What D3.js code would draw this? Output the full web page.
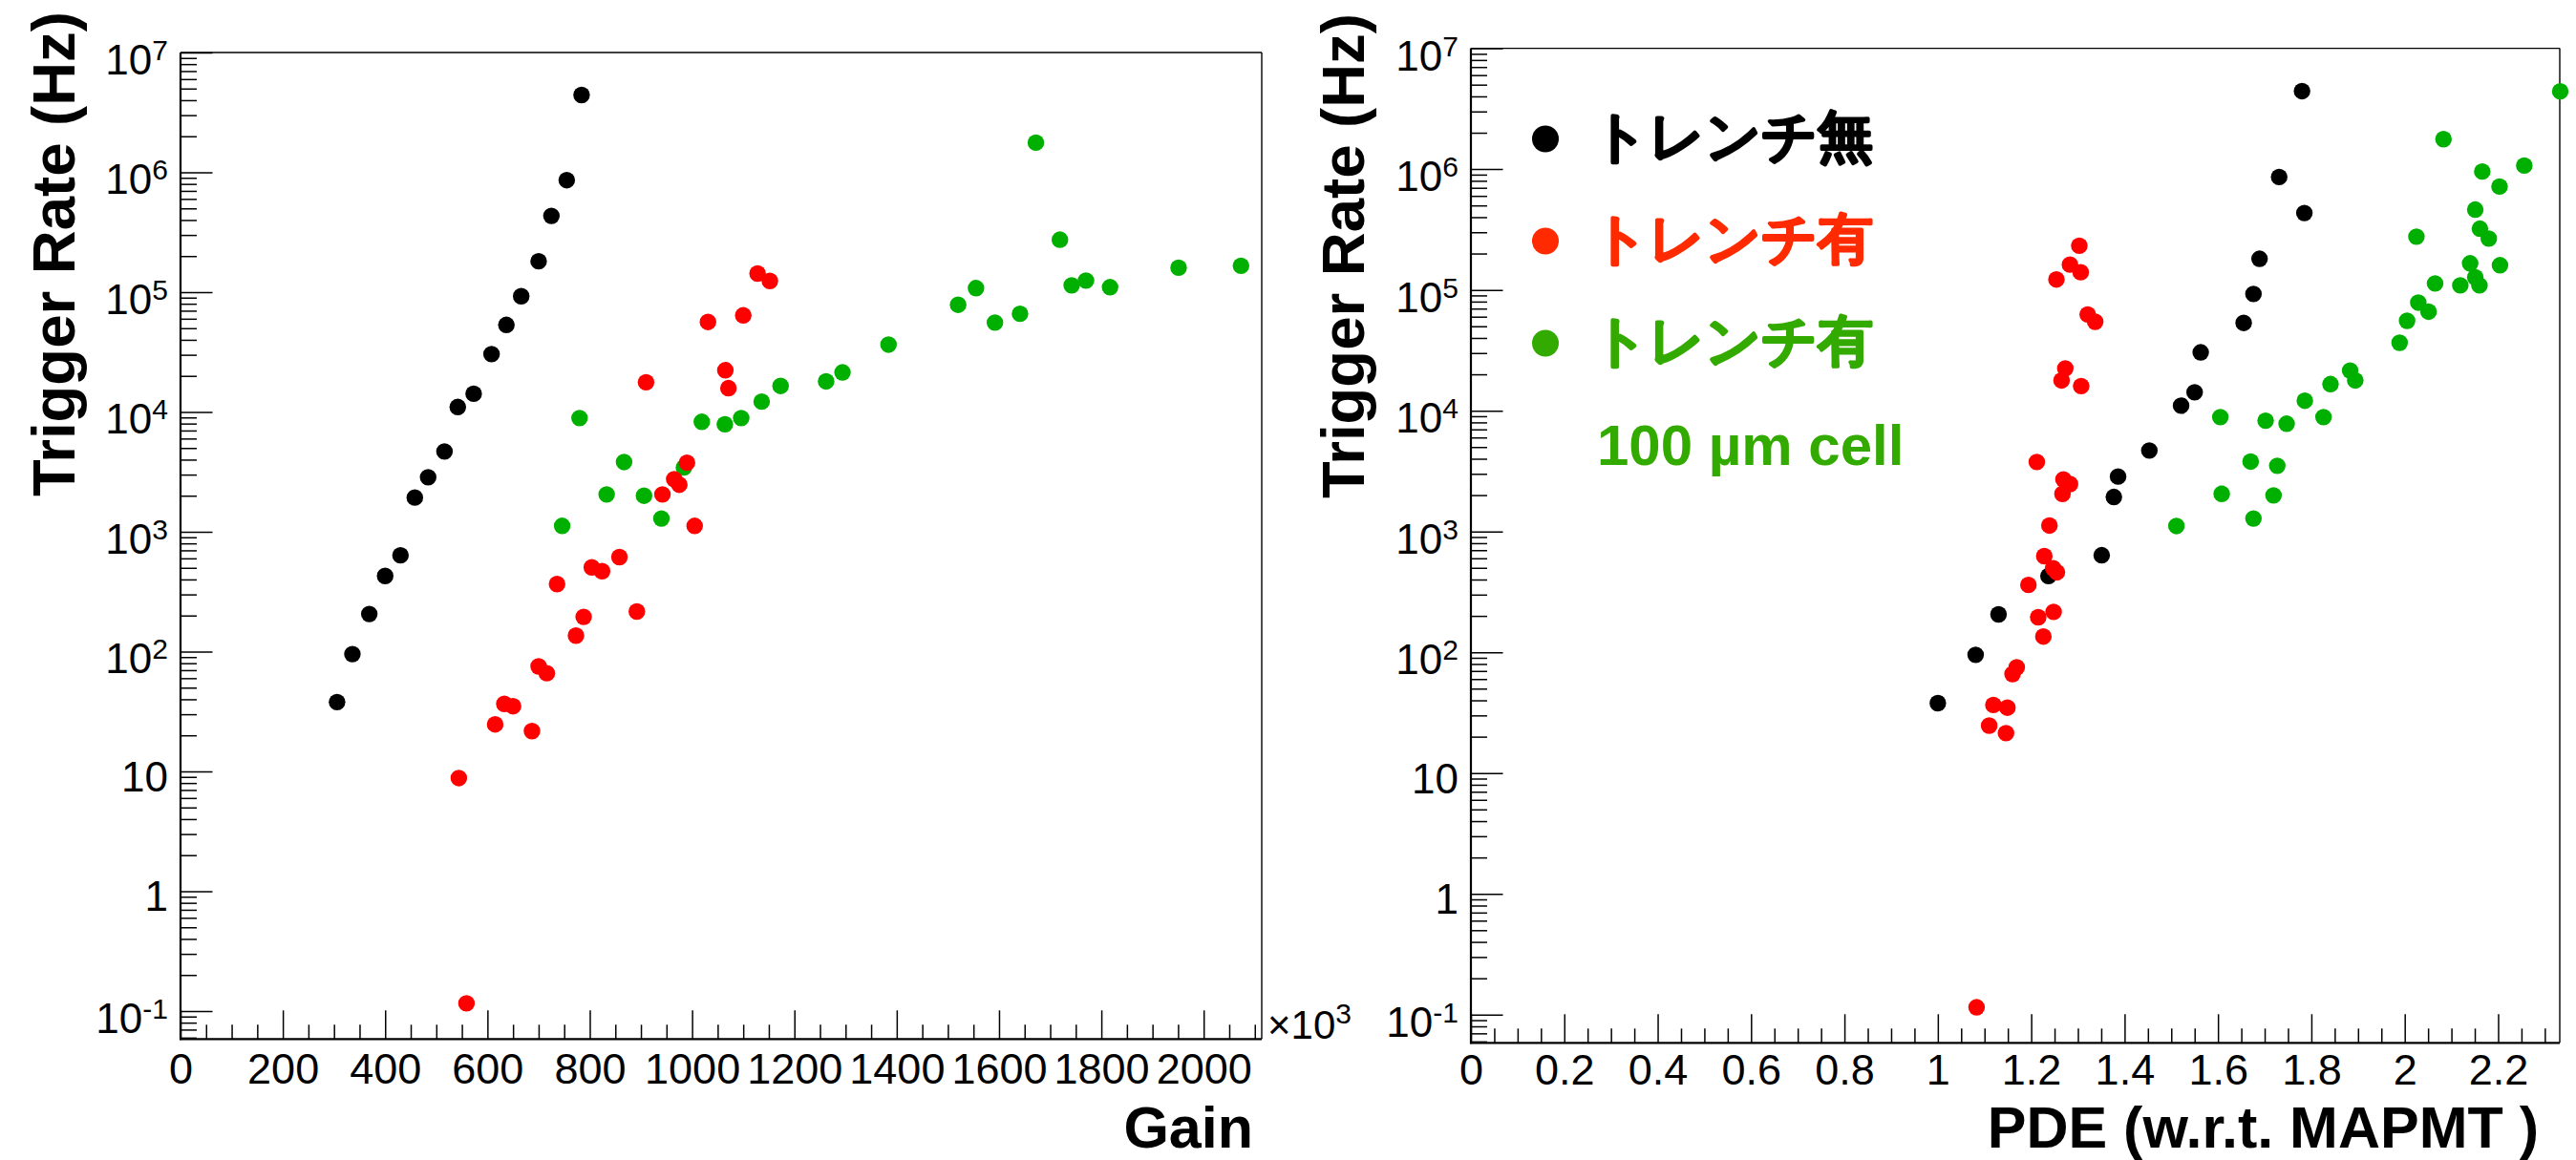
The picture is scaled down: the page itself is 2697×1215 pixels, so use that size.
<!DOCTYPE html>
<html><head><meta charset="utf-8">
<script src="https://cdn.jsdelivr.net/npm/d3@7"></script>
<style>
html,body{margin:0;padding:0;background:#fff;}
svg{display:block;}
text{font-family:"Liberation Sans",Arial,Helvetica,sans-serif;}
</style>
</head><body>
<svg id="chart" width="2697" height="1215"></svg>
<script>
// ---------------- data ----------------
// Trench-less (black): same rates in both panels
const blackGain = [784, 755, 725, 700, 666, 637, 608, 573, 542, 516, 484, 458, 430, 400, 369, 336, 306];
const blackPDE  = [1.780, 1.731, 1.785, 1.689, 1.676, 1.655, 1.563, 1.550, 1.521, 1.453, 1.386, 1.377, 1.351, 1.237, 1.130, 1.081, 1.000];
const blackRate = [4.42e6, 8.6e5, 4.33e5, 1.81e5, 9.25e4, 5.33e4, 3.04e4, 1.42e4, 1.1e4, 4.68e3, 2.85e3, 1.93e3, 636, 428, 206, 95.3, 37.9];

// Trench (red)
const redGain     = [1128, 1152, 1100, 1031, 1065, 1071, 910, 990, 965, 975, 942, 1005, 858, 804, 824, 736, 892, 788, 773, 700, 716, 633, 650, 615, 687, 544, 559];
const redGainRate = [1.43e5, 1.24e5, 6.4e4, 5.64e4, 2.23e4, 1.58e4, 1.77e4, 3.77e3, 2.75e3, 2.47e3, 2.05e3, 1.12e3, 615, 505, 469, 366, 216, 195, 136, 75.2, 66, 36.6, 35, 24.7, 21.7, 8.8, 0.116];
const redPDE      = [1.303, 1.283, 1.306, 1.254, 1.321, 1.337, 1.273, 1.265, 1.307, 1.212, 1.269, 1.283, 1.267, 1.239, 1.228, 1.247, 1.255, 1.194, 1.248, 1.215, 1.226, 1.169, 1.160, 1.119, 1.149, 1.110, 1.146, 1.083];
const redPDERate  = [2.32e5, 1.62e5, 1.40e5, 1.22e5, 6.26e4, 5.45e4, 2.24e4, 1.78e4, 1.60e4, 3.76e3, 2.70e3, 2.47e3, 2.05e3, 1.12e3, 625, 497, 459, 361, 216, 195, 135, 75, 66, 36.6, 34.8, 24.7, 21.4, 0.115];

// Trench, 100 um cell (green)
const greenGain     = [780, 867, 833, 906, 746, 940, 984, 1019, 1064, 1096, 1136, 1173, 1262, 1294, 1384, 1520, 1555, 1592, 1641, 1672, 1719, 1742, 1770, 1817, 1951, 2073];
const greenGainRate = [8.9e3, 3.82e3, 2.05e3, 2.0e3, 1.12e3, 1.29e3, 3.44e3, 8.28e3, 7.9e3, 8.9e3, 1.22e4, 1.65e4, 1.8e4, 2.14e4, 3.65e4, 7.85e4, 1.08e5, 5.57e4, 6.6e4, 1.77e6, 2.74e5, 1.14e5, 1.25e5, 1.1e5, 1.6e5, 1.66e5];
const greenPDE      = [2.333, 2.083, 2.256, 2.166, 2.203, 2.151, 2.161, 2.025, 2.180, 2.140, 2.204, 2.151, 2.065, 2.119, 2.160, 2.029, 2.051, 2.005, 1.989, 1.883, 1.894, 1.841, 1.786, 1.826, 1.605, 1.702, 1.747, 1.670, 1.727, 1.608, 1.719, 1.676, 1.511];
const greenPDERate  = [4.4e6, 1.77e6, 1.07e6, 9.55e5, 7.17e5, 4.62e5, 3.21e5, 2.76e5, 2.66e5, 1.66e5, 1.60e5, 1.27e5, 1.13e5, 1.09e5, 1.09e5, 7.85e4, 6.6e4, 5.55e4, 3.65e4, 2.15e4, 1.78e4, 1.66e4, 1.21e4, 8.85e3, 8.85e3, 8.27e3, 7.8e3, 3.79e3, 3.5e3, 2.05e3, 1.99e3, 1.28e3, 1.11e3];

// axes / labels
const yDomain = [0.0584, 1e7];
const yTickValues = [1e-1, 1, 10, 1e2, 1e3, 1e4, 1e5, 1e6, 1e7];
const yTickBase   = ["10", "1", "10", "10", "10", "10", "10", "10", "10"];
const yTickExp    = ["-1", "", "", "2", "3", "4", "5", "6", "7"];
const gainTicks = [0, 200, 400, 600, 800, 1000, 1200, 1400, 1600, 1800, 2000];
const pdeTicks  = [0, 0.2, 0.4, 0.6, 0.8, 1, 1.2, 1.4, 1.6, 1.8, 2, 2.2];
const yTitle = "Trigger Rate (Hz)";
const gainTitle = "Gain";
const pdeTitle = "PDE (w.r.t. MAPMT )";
const gainMultiplier = ["×10", "3"];
const legendLabels = ["トレンチ無", "トレンチ有", "トレンチ有"];
const legendNote = "100 µm cell";

// ---------------- drawing ----------------
const svg = d3.select("#chart");
const colBlack = "#000000", colRed = "#ff0000", colGreen = "#00b000";
const legCols = ["#000000", "#ff2a00", "#33aa00"];

const yMinor = [];
for (let d = -2; d <= 6; d++) for (let m = 2; m <= 9; m++) {
  const v = m * Math.pow(10, d);
  if (v >= yDomain[0] && v <= yDomain[1]) yMinor.push(v);
}

function panel(cfg) {
  const g = svg.append("g");
  const x = d3.scaleLinear().domain(cfg.xDomain).range([cfg.left, cfg.right]);
  const y = d3.scaleLog().domain(yDomain).range([cfg.bottom, cfg.top]);

  const styleAxis = sel => {
    sel.select(".domain").remove();
    sel.selectAll(".tick line").attr("stroke", "#000").attr("stroke-width", 1.5);
    sel.selectAll(".tick text").attr("fill", "#000").attr("font-size", 45);
  };

  // x minor
  g.append("g").attr("transform", `translate(0,${cfg.bottom})`)
    .call(d3.axisBottom(x).tickValues(cfg.xMinor).tickSizeInner(-15).tickSizeOuter(0).tickFormat(""))
    .call(styleAxis);
  // x major
  g.append("g").attr("transform", `translate(0,${cfg.bottom})`)
    .call(d3.axisBottom(x).tickValues(cfg.xMajor).tickSizeInner(-30).tickSizeOuter(0).tickPadding(cfg.xPad).tickFormat(cfg.xFmt))
    .call(styleAxis);
  // y minor
  g.append("g").attr("transform", `translate(${cfg.left},0)`)
    .call(d3.axisLeft(y).tickValues(yMinor).tickSizeInner(-17).tickSizeOuter(0).tickFormat(""))
    .call(styleAxis);
  // y major
  const ya = g.append("g").attr("transform", `translate(${cfg.left},0)`)
    .call(d3.axisLeft(y).tickValues(yTickValues).tickSizeInner(-33.5).tickSizeOuter(0).tickPadding(13).tickFormat(""))
    .call(styleAxis);
  ya.selectAll(".tick text").each(function(d, i) {
    const t = d3.select(this);
    const exp = yTickExp[i];
    t.attr("dy", null).attr("y", exp ? 22.5 : 20.5).attr("font-size", 44);
    t.append("tspan").text(yTickBase[i]);
    if (exp) t.append("tspan").attr("font-size", 30).attr("dy", -15).text(exp);
  });

  // frame
  const fr = g.append("g").attr("stroke", "#000").attr("fill", "none");
  fr.append("line").attr("x1", cfg.left).attr("x2", cfg.right).attr("y1", cfg.top).attr("y2", cfg.top).attr("stroke-width", 1.4);
  fr.append("line").attr("x1", cfg.right).attr("x2", cfg.right).attr("y1", cfg.top).attr("y2", cfg.bottom).attr("stroke-width", 1.4);
  fr.append("line").attr("x1", cfg.left).attr("x2", cfg.left).attr("y1", cfg.top).attr("y2", cfg.bottom + 1).attr("stroke-width", 2.2);
  fr.append("line").attr("x1", cfg.left - 1).attr("x2", cfg.right).attr("y1", cfg.bottom).attr("y2", cfg.bottom).attr("stroke-width", 2.2);

  // points: black, green, red
  cfg.series.forEach(s => {
    g.append("g").selectAll("circle")
      .data(s.xs.map((v, i) => [v, s.ys[i]]))
      .join("circle")
      .attr("cx", d => x(d[0])).attr("cy", d => y(d[1]))
      .attr("r", 8.7).attr("fill", s.color);
  });

  // titles
  g.append("text").attr("transform", `translate(${cfg.yTitleX},${cfg.yTitleY}) rotate(-90)`)
    .attr("text-anchor", "end").attr("font-size", 63.5).attr("font-weight", "bold").text(yTitle);
  g.append("text").attr("x", cfg.xTitleX).attr("y", 1202).attr("text-anchor", "end")
    .attr("font-size", 61).attr("font-weight", "bold").text(cfg.xTitle);
  return {g, x, y};
}

const left = panel({
  left: 189, right: 1321, top: 55, bottom: 1088.3,
  xDomain: [0, 2113.5],
  xMajor: gainTicks, xPad: 15,
  xMinor: d3.range(0, 2113, 50).filter(v => v % 200 !== 0),
  xFmt: d => String(d),
  series: [
    {xs: blackGain, ys: blackRate, color: colBlack},
    {xs: greenGain, ys: greenGainRate, color: colGreen},
    {xs: redGain, ys: redGainRate, color: colRed}
  ],
  yTitleX: 78, yTitleY: 12, xTitle: gainTitle, xTitleX: 1312
});

const right = panel({
  left: 1540, right: 2680, top: 50.6, bottom: 1092.3,
  xDomain: [0, 2.332],
  xMajor: pdeTicks, xPad: 12,
  xMinor: d3.range(0, 47).map(i => i * 0.05).filter((v, i) => i % 4 !== 0 && v <= 2.332),
  xFmt: d => String(+d.toFixed(1)),
  series: [
    {xs: blackPDE, ys: blackRate, color: colBlack},
    {xs: greenPDE, ys: greenPDERate, color: colGreen},
    {xs: redPDE, ys: redPDERate, color: colRed}
  ],
  yTitleX: 1428, yTitleY: 14, xTitle: pdeTitle, xTitleX: 2658
});

// x10^3 multiplier on gain axis
const mult = svg.append("text").attr("x", 1327).attr("y", 1088).attr("font-size", 42).attr("fill", "#000");
mult.append("tspan").text(gainMultiplier[0]);
mult.append("tspan").attr("font-size", 30).attr("dy", -16).text(gainMultiplier[1]);

// legend
const legRowY = [142, 249, 356];
const leg = svg.append("g");
legendLabels.forEach((lab, i) => {
  leg.append("circle").attr("cx", 1618).attr("cy", legRowY[i] + 3.5).attr("r", 14).attr("fill", legCols[i]);
  leg.append("text").attr("x", 1667).attr("y", legRowY[i]).attr("dominant-baseline", "central")
    .attr("font-family", "'Noto Sans CJK JP','Noto Sans CJK SC',sans-serif")
    .attr("font-size", 58).attr("font-weight", "bold")
    .attr("fill", legCols[i]).attr("stroke", legCols[i]).attr("stroke-width", 2.2)
    .attr("stroke-linejoin", "round").text(lab);
});
leg.append("text").attr("x", 1672).attr("y", 486.6).attr("font-size", 60).attr("font-weight", "bold")
  .attr("fill", legCols[2]).text(legendNote);
</script>
</body></html>
